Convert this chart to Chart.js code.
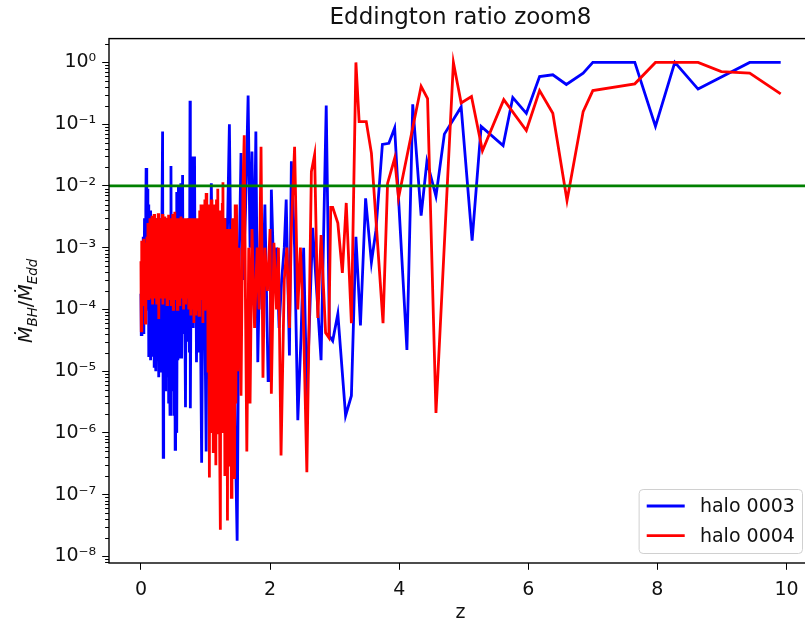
<!DOCTYPE html>
<html>
<head>
<meta charset="utf-8">
<script src="https://cdn.jsdelivr.net/npm/chart.js@4.4.1/dist/chart.umd.min.js"></script>
<style>
  html, body { margin: 0; padding: 0; background: #fff; overflow: hidden; }
  #wrap { position: relative; width: 812px; height: 624px; }
</style>
</head>
<body>
<div id="wrap"><canvas id="chart"></canvas></div>
<script>
// halo 0003 (blue)
const zBlue = [
  0.00, 0.005, 0.015, 0.025, 0.035, 0.045, 0.055, 0.065, 0.075, 0.08, 0.09,
  0.100, 0.107, 0.114, 0.121, 0.128, 0.135, 0.142, 0.149, 0.156, 0.163,
  0.170, 0.177, 0.184, 0.191, 0.198, 0.205, 0.212, 0.219, 0.226, 0.233,
  0.240, 0.247, 0.254, 0.261, 0.268, 0.275, 0.282, 0.289, 0.296, 0.303,
  0.310, 0.317, 0.324,
  0.335, 0.345, 0.352, 0.359, 0.366, 0.373, 0.380, 0.387, 0.394, 0.401,
  0.408, 0.415, 0.422, 0.429, 0.436, 0.443, 0.450, 0.465, 0.472, 0.479,
  0.486, 0.493, 0.500, 0.507, 0.514, 0.521, 0.530, 0.537, 0.544, 0.551,
  0.558, 0.565, 0.572, 0.580, 0.587, 0.594, 0.601, 0.608, 0.615, 0.620,
  0.630,
  0.645, 0.655, 0.67, 0.69, 0.70, 0.71, 0.72, 0.73, 0.74, 0.75,
  0.76, 0.765, 0.78, 0.79, 0.80, 0.81, 0.83, 0.84, 0.85, 0.86,
  0.88, 0.89, 0.91, 0.94, 0.96, 0.98, 1.01, 1.03, 1.06, 1.09,
  1.12, 1.15, 1.18, 1.22, 1.26, 1.30, 1.33, 1.37, 1.40, 1.43,
  1.46, 1.49, 1.52, 1.55, 1.58, 1.62, 1.66, 1.69, 1.72, 1.75,
  1.78, 1.81, 1.85, 1.88, 1.92, 1.97, 2.00, 2.02, 2.06, 2.10,
  2.14, 2.18, 2.22, 2.25, 2.30, 2.33, 2.38, 2.43, 2.48, 2.52,
  2.57, 2.66, 2.79, 2.87, 2.92, 2.97, 3.05, 3.17, 3.26, 3.33,
  3.40, 3.48, 3.57, 3.64, 3.74, 3.84, 3.93, 4.12, 4.21, 4.34,
  4.43, 4.57, 4.70, 4.96, 5.13, 5.27, 5.61, 5.76, 5.97, 6.175,
  6.38, 6.59, 6.85, 7.00, 7.65, 7.97, 8.27, 8.63, 9.43, 9.91
];
const ratioBlue = [
  1.8e-4, 3.9e-5, 4e-4, 6e-5, 1.5e-3, 4e-5, 3e-3, 1e-4, 4e-3, 1.95e-2, 1e-3,
  9e-3, 1.1e-4, 5e-3, 1.7e-5, 2e-3, 2.5e-5, 4e-3, 1.5e-5, 1.2e-3, 3e-5,
  2.5e-3, 1.8e-5, 1.5e-3, 2e-5, 2e-3, 1.2e-5, 8e-4, 3e-5, 1.2e-3, 1e-5,
  1e-3, 2e-5, 3e-3, 1.5e-5, 1e-3, 8e-6, 2e-3, 1.2e-5, 1e-3, 2e-5,
  3e-3, 1e-5, 2e-3,
  0.076, 4e-7, 1.5e-3, 1.5e-5, 2e-3, 5e-6, 1e-3, 1.2e-5, 3e-3, 8e-6,
  2e-3, 1.5e-5, 2e-3, 3e-6, 3e-3, 1e-5, 2e-6, 0.021, 1.5e-5, 2e-3,
  5e-6, 3e-3, 1.2e-5, 2e-3, 2e-6, 3e-3, 5.4e-7, 2e-3, 3e-6, 8e-3,
  1e-6, 3e-3, 1.5e-5, 0.01, 2e-5, 1.5e-3, 1.6e-5, 3e-3, 2e-5, 0.011,
  1.6e-5,
  0.015, 4e-5, 2e-3, 2.6e-6, 1e-3, 3e-5, 2e-3, 5e-5, 3e-3, 2e-5,
  0.24, 2.5e-6, 2e-3, 5e-5, 0.03, 5e-5, 0.03, 1e-4, 2e-3, 1.4e-5,
  1e-3, 2e-5, 2e-3, 3.3e-7, 5e-4, 1e-3, 5e-7, 2e-3, 5e-5, 0.011,
  3e-5, 1e-3, 2e-4, 5e-4, 1e-4, 3e-3, 5e-4, 0.1, 1e-4, 2e-3,
  1e-6, 1.8e-8, 5e-4, 0.034, 3e-4, 4e-3, 0.29, 1e-3, 0.036, 3e-4,
  0.076, 1.4e-5, 2e-3, 1e-4, 5e-3, 7e-6, 7e-6, 8.7e-3, 3e-4, 1e-3,
  5e-5, 3e-4, 1e-3, 6e-3, 1.8e-5, 0.025, 1e-3, 1.6e-6, 3.7e-5, 1e-3,
  3.7e-6, 2.1e-3, 1.5e-5, 0.2, 3.7e-5, 3.1e-5, 8.5e-5, 1.9e-6, 4e-6, 1.5e-3,
  5.5e-5, 6.3e-3, 5.8e-4, 1.9e-3, 0.047, 0.049, 0.087, 2.2e-5, 0.21, 3.3e-3,
  0.025, 6.8e-3, 0.069, 0.19, 1.3e-3, 0.092, 0.045, 0.27, 0.15, 0.59,
  0.63, 0.44, 0.67, 1.0, 1.0, 0.092, 1.0, 0.37, 1.0, 1.0
];

// halo 0004 (red)
const zRed = [
  0.00, 0.005, 0.012, 0.02, 0.028, 0.036, 0.044, 0.052, 0.06, 0.068,
  0.076, 0.084, 0.092, 0.10, 0.108, 0.116, 0.124, 0.132, 0.14, 0.148,
  0.156, 0.164, 0.172, 0.18, 0.188, 0.196, 0.204, 0.212, 0.22, 0.228,
  0.236, 0.244, 0.252, 0.26, 0.268, 0.276, 0.284, 0.292, 0.30, 0.308,
  0.316, 0.324, 0.332, 0.34, 0.348, 0.356, 0.364, 0.372, 0.38, 0.388,
  0.396, 0.404, 0.412, 0.42, 0.428, 0.436, 0.444, 0.452, 0.46, 0.468,
  0.476, 0.484, 0.492, 0.50, 0.508, 0.516, 0.524, 0.532, 0.54, 0.548,
  0.556, 0.564, 0.572, 0.58, 0.588, 0.596, 0.604, 0.612, 0.62, 0.628,
  0.636, 0.644, 0.652, 0.66, 0.668, 0.676, 0.684, 0.692, 0.70, 0.708,
  0.716, 0.724, 0.732, 0.74, 0.748, 0.756, 0.764, 0.772, 0.78, 0.788,
  0.796, 0.804, 0.812, 0.82, 0.828, 0.836, 0.844, 0.852, 0.86, 0.868,
  0.876, 0.884, 0.892, 0.90, 0.91, 0.92, 0.93, 0.94, 0.95, 0.96,
  0.97, 0.98, 0.99, 1.00, 1.01, 1.02, 1.03, 1.04, 1.05, 1.06,
  1.07, 1.08, 1.09, 1.10, 1.11, 1.12, 1.13, 1.14, 1.15, 1.16,
  1.17, 1.18, 1.19, 1.20, 1.21, 1.22, 1.23, 1.24, 1.25, 1.26,
  1.27, 1.28, 1.29, 1.30, 1.31, 1.32, 1.33, 1.34, 1.35, 1.36,
  1.37, 1.38, 1.39, 1.40, 1.41, 1.42, 1.43, 1.44, 1.45, 1.46,
  1.47, 1.48, 1.50, 1.52, 1.55, 1.58, 1.60, 1.62, 1.64, 1.67,
  1.69, 1.72, 1.76, 1.80, 1.83, 1.86, 1.89, 1.92, 1.96, 2.00,
  2.02, 2.06, 2.10, 2.13, 2.17, 2.22, 2.26, 2.30, 2.33, 2.38,
  2.43, 2.47, 2.52, 2.57, 2.64, 2.69, 2.74, 2.79, 2.86, 2.91,
  2.94, 2.97, 3.05, 3.12, 3.18, 3.26, 3.33, 3.38, 3.49, 3.57,
  3.75, 3.82, 3.93, 3.99, 4.34, 4.44, 4.57, 4.84, 4.96, 5.12,
  5.29, 5.62, 5.97, 6.175, 6.38, 6.60, 6.85, 7.00, 7.65, 7.97,
  8.63, 8.99, 9.43, 9.91
];
const ratioRed = [
  6e-4, 4.5e-5, 1.3e-3, 2e-4, 1e-3, 1.2e-4, 1.4e-3, 3e-4, 9e-4, 6e-5,
  1.2e-3, 2e-4, 1.5e-3, 4e-4, 2.5e-3, 1.5e-4, 1.8e-3, 3e-4, 3e-3, 1.5e-4,
  2e-3, 4e-4, 3.3e-3, 1.2e-4, 2e-3, 3e-4, 3.5e-3, 1.5e-4, 2.5e-3, 2e-4,
  3e-3, 1.2e-4, 2e-3, 3e-4, 3.6e-3, 7e-5, 2.5e-3, 2e-4, 3e-3, 1.5e-4,
  2.2e-3, 3e-4, 3.5e-3, 1.2e-4, 2.8e-3, 2e-4, 3.2e-3, 1.5e-4, 2.5e-3, 2.5e-4,
  3e-3, 1.2e-4, 2.6e-3, 2e-4, 3.4e-3, 1.5e-4, 2.5e-3, 3e-4, 3e-3, 1.2e-4,
  2.5e-3, 2e-4, 3.5e-3, 1e-4, 2.8e-3, 2e-4, 3.8e-3, 1.5e-4, 2.5e-3, 2.5e-4,
  3e-3, 1e-4, 2.5e-3, 2e-4, 3e-3, 1.2e-4, 2.6e-3, 2e-4, 3.2e-3, 1.5e-4,
  2.8e-3, 2.2e-4, 3e-3, 1e-4, 2.5e-3, 2e-4, 3e-3, 1.2e-4, 2.8e-3, 3e-4,
  3e-3, 1.5e-4, 2.5e-3, 1e-4, 3e-3, 2e-4, 2.8e-3, 8e-5, 3e-3, 1.5e-4,
  2.5e-3, 1e-4, 3e-3, 6e-5, 2.5e-3, 2e-4, 3e-3, 8e-5, 2.5e-3, 1.5e-4,
  2e-3, 1e-4, 3e-3, 8e-5, 4e-3, 1.5e-4, 5e-3, 3e-4, 3e-3, 6e-5,
  5e-3, 1e-4, 6e-3, 1.5e-4, 7.7e-3, 1e-4, 4e-3, 1e-5, 5e-3, 1.9e-7,
  3e-3, 1e-6, 6e-3, 1e-5, 3e-3, 5e-7, 5e-3, 2e-6, 4e-3, 3e-7,
  6e-3, 1e-6, 9e-3, 2e-5, 4e-3, 5e-7, 2.7e-8, 3e-3, 1e-6, 5e-3,
  0.0115, 1e-6, 3e-3, 2e-7, 2e-3, 5e-6, 1e-3, 3.8e-8, 2e-3, 1e-6,
  1e-3, 3e-7, 2e-3, 9e-8, 1e-3, 3e-3, 1e-6, 2e-3, 1.8e-7, 5e-3,
  3e-6, 5e-3, 1e-5, 1e-3, 4e-6, 9e-3, 0.066, 1e-4, 5e-7, 1e-3,
  3e-6, 2e-3, 5e-5, 1e-3, 1e-4, 0.043, 7.8e-6, 1e-3, 2e-4, 2e-3,
  4.3e-6, 1.2e-3, 1e-4, 1e-3, 4.3e-7, 3e-4, 1e-3, 5e-5, 2e-3, 0.043,
  1e-4, 1e-3, 5e-5, 2.3e-7, 0.017, 0.032, 7.3e-5, 1.6e-3, 4.2e-5, 3.5e-5,
  4.5e-3, 4.5e-3, 2.5e-3, 3.9e-4, 5.3e-3, 6e-5, 1.0, 0.11, 0.11, 0.034,
  6e-5, 0.011, 0.028, 6.4e-3, 0.41, 0.26, 2.1e-6, 1.0, 0.22, 0.28,
  0.037, 0.25, 0.079, 0.35, 0.15, 0.0058, 0.16, 0.35, 0.45, 1.0,
  1.0, 0.71, 0.67, 0.31
];

const seriesLabels = ['halo 0003', 'halo 0004'];
const seriesColors = ['#0000ff', '#ff0000'];
const eddLimit = 0.01;
const xTicks = [0, 2, 4, 6, 8, 10];
const yTicks = [1e-8, 1e-7, 1e-6, 1e-5, 1e-4, 1e-3, 1e-2, 1e-1, 1];

const FONT = "'DejaVu Sans', sans-serif";
const SUP = {'-': '\u207b', '0': '\u2070', '1': '\u00b9', '2': '\u00b2', '3': '\u00b3',
  '4': '\u2074', '5': '\u2075', '6': '\u2076', '7': '\u2077', '8': '\u2078', '9': '\u2079'};

function powLabel(v) {
  const e = String(Math.round(Math.log10(v)));
  return '10' + e.split('').map(c => SUP[c]).join('');
}

function toPoints(xs, ys) {
  return xs.map((x, i) => ({x: x, y: ys[i]}));
}

// frame, minor ticks, eddington line, legend and y label
const decor = {
  id: 'decor',
  afterDatasetsDraw(chart) {
    const {ctx, chartArea: a, scales: {y}} = chart;
    const py = y.getPixelForValue(eddLimit);
    ctx.save();
    ctx.beginPath();
    ctx.rect(a.left, a.top, a.width, a.height);
    ctx.clip();
    ctx.strokeStyle = '#008000';
    ctx.lineWidth = 2.8;
    ctx.beginPath();
    ctx.moveTo(a.left, py);
    ctx.lineTo(a.right, py);
    ctx.stroke();
    ctx.restore();
  },
  afterDraw(chart) {
    const {ctx, chartArea: a, scales: {y}} = chart;
    ctx.save();

    // minor ticks on the log axis
    ctx.strokeStyle = '#000';
    ctx.lineWidth = 1;
    for (let e = -9; e <= 0; e++) {
      for (let m = 2; m <= 9; m++) {
        const v = m * Math.pow(10, e);
        if (v < y.min || v > y.max) continue;
        const p = Math.round(y.getPixelForValue(v)) + 0.5;
        ctx.beginPath();
        ctx.moveTo(a.left - 3.9, p);
        ctx.lineTo(a.left, p);
        ctx.stroke();
      }
    }

    // axes frame
    ctx.lineWidth = 1.4;
    ctx.strokeRect(a.left, a.top, a.width, a.height);

    // legend inside lower right
    const em = 19;
    ctx.font = '19px ' + FONT;
    const tw = Math.max(...seriesLabels.map(s => ctx.measureText(s).width));
    const w = 0.4 * em * 2 + 2 * em + 0.8 * em + tw;
    const h = 64;
    const lx = a.right - 0.5 * em - w;
    const ly = a.bottom - 0.5 * em - h;
    ctx.fillStyle = 'rgba(255,255,255,0.8)';
    ctx.strokeStyle = '#d0d0d0';
    ctx.lineWidth = 1;
    ctx.beginPath();
    ctx.roundRect(lx, ly, w, h, 4);
    ctx.fill();
    ctx.stroke();
    ctx.textBaseline = 'middle';
    ctx.textAlign = 'left';
    seriesLabels.forEach((lab, i) => {
      const ry = ly + 16.5 + i * 29.6;
      ctx.strokeStyle = seriesColors[i];
      ctx.lineWidth = 2.8;
      ctx.beginPath();
      ctx.moveTo(lx + 0.4 * em, ry);
      ctx.lineTo(lx + 2.4 * em, ry);
      ctx.stroke();
      ctx.fillStyle = '#111';
      ctx.fillText(lab, lx + 3.2 * em, ry + 1);
    });

    // y axis label: Mdot_BH / Mdot_Edd
    const parts = [
      {t: '\u1e40', f: 'italic 19px ' + FONT, dy: 0},
      {t: 'BH', f: 'italic 13.5px ' + FONT, dy: 4.5},
      {t: '/', f: '19px ' + FONT, dy: 0},
      {t: '\u1e40', f: 'italic 19px ' + FONT, dy: 0},
      {t: 'Edd', f: 'italic 13.5px ' + FONT, dy: 4.5}
    ];
    let total = 0;
    parts.forEach(p => { ctx.font = p.f; p.w = ctx.measureText(p.t).width; total += p.w; });
    ctx.translate(25, (a.top + a.bottom) / 2);
    ctx.rotate(-Math.PI / 2);
    ctx.fillStyle = '#111';
    ctx.textBaseline = 'alphabetic';
    let x0 = -total / 2;
    parts.forEach(p => {
      ctx.font = p.f;
      ctx.fillText(p.t, x0, 7 + p.dy);
      x0 += p.w;
    });
    ctx.restore();
  }
};

const ctx = document.getElementById('chart').getContext('2d');
new Chart(ctx, {
  type: 'line',
  data: {
    datasets: [
      {
        label: seriesLabels[0],
        data: toPoints(zBlue, ratioBlue),
        borderColor: seriesColors[0],
        borderWidth: 2.8,
        pointRadius: 0,
        tension: 0,
        order: 2
      },
      {
        label: seriesLabels[1],
        data: toPoints(zRed, ratioRed),
        borderColor: seriesColors[1],
        borderWidth: 2.8,
        pointRadius: 0,
        tension: 0,
        order: 1
      }
    ]
  },
  options: {
    responsive: true,
    maintainAspectRatio: false,
    animation: false,
    events: [],
    layout: { padding: 0 },
    plugins: {
      legend: { display: false },
      tooltip: { enabled: false },
      title: {
        display: true,
        fullSize: false,
        text: 'Eddington ratio zoom8',
        color: '#111',
        font: { family: FONT, size: 23, weight: 'normal' },
        padding: { top: 4, bottom: 7 }
      }
    },
    scales: {
      x: {
        type: 'linear',
        min: -0.495,
        max: 10.395,
        afterBuildTicks: s => { s.ticks = xTicks.map(v => ({value: v})); },
        afterFit: s => { s.height = 61; },
        grid: { drawOnChartArea: false, drawTicks: true, tickLength: 6.8, tickColor: '#000', tickWidth: 1 },
        border: { display: false },
        ticks: { autoSkip: false, maxRotation: 0, padding: 9, color: '#111', font: { family: FONT, size: 19 } },
        title: { display: true, text: 'z', color: '#111', font: { family: FONT, size: 19 }, padding: { top: 0, bottom: 0 } }
      },
      y: {
        type: 'logarithmic',
        min: Math.pow(10, -8.107),
        max: Math.pow(10, 0.386),
        afterBuildTicks: s => { s.ticks = yTicks.map(v => ({value: v})); },
        afterFit: s => { s.width = 109; },
        grid: { drawOnChartArea: false, drawTicks: true, tickLength: 6.8, tickColor: '#000', tickWidth: 1 },
        border: { display: false },
        ticks: {
          autoSkip: false,
          padding: 6,
          color: '#111',
          font: { family: FONT, size: 19 },
          callback: v => powLabel(v)
        }
      }
    }
  },
  plugins: [decor]
});
</script>
</body>
</html>
